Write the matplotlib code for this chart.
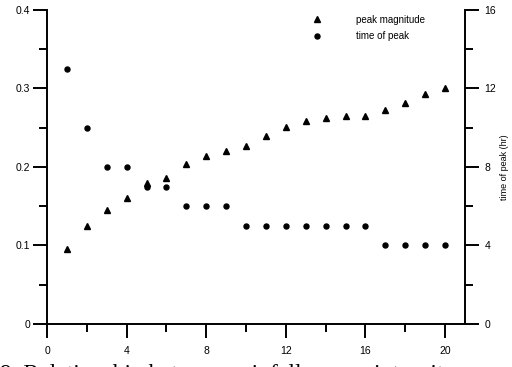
import matplotlib
matplotlib.use("Agg")
import matplotlib.pyplot as plt
from matplotlib.ticker import MultipleLocator

# data
storm = [1, 2, 3, 4, 5, 6, 7, 8, 9, 10, 11, 12, 13, 14, 15, 16, 17, 18, 19, 20]
peak_mag = [0.095, 0.125, 0.145, 0.161, 0.179, 0.186, 0.204, 0.214, 0.22, 0.227,
            0.24, 0.251, 0.258, 0.262, 0.265, 0.265, 0.272, 0.282, 0.293, 0.30]
peak_time = [13, 10, 8, 8, 7, 7, 6, 6, 6, 5, 5, 5, 5, 5, 5, 5, 4, 4, 4, 4]

plt.rcParams['font.family'] = ['Liberation Sans', 'DejaVu Sans']

fig = plt.figure(figsize=(5.12, 3.67), dpi=100)
ax = fig.add_axes([0.0918, 0.1172, 0.8164, 0.8556])
ax2 = ax.twinx()

l1, = ax.plot(storm, peak_mag, ls='none', marker='^', ms=3.8, color='black',
              label='peak magnitude')
l2, = ax2.plot(storm, peak_time, ls='none', marker='o', ms=3.6, color='black',
               label='time of peak')

ax.set_xlim(0, 21)
ax.set_ylim(0, 0.4)
ax2.set_ylim(0, 16)

ax.xaxis.set_major_locator(MultipleLocator(4))
ax.xaxis.set_minor_locator(MultipleLocator(2))
ax.yaxis.set_major_locator(MultipleLocator(0.1))
ax.yaxis.set_minor_locator(MultipleLocator(0.05))
ax2.yaxis.set_major_locator(MultipleLocator(4))
ax2.yaxis.set_minor_locator(MultipleLocator(2))
ax.yaxis.set_major_formatter(plt.FuncFormatter(lambda v, p: '0' if v == 0 else f'{v:.1f}'))

for a in (ax, ax2):
    a.spines['top'].set_visible(False)
    for s in a.spines.values():
        s.set_linewidth(1.4)
    a.tick_params(which='major', length=10, width=1.4, direction='out', labelsize=7.5)
    a.tick_params(which='minor', length=6, width=1.4, direction='out')
ax.spines['right'].set_visible(False)
ax2.spines['left'].set_visible(False)
ax2.spines['bottom'].set_visible(False)
ax.tick_params(axis='x', which='major', pad=6)
ax.tick_params(axis='y', which='major', pad=2)
ax2.tick_params(axis='y', which='major', pad=4)

ax2.set_ylabel('time of peak (hr)', fontsize=6.5, labelpad=3)

ax.legend(handles=[l1, l2], loc='upper left', bbox_to_anchor=(0.622, 0.985),
          frameon=False, fontsize=7, handlelength=2, handletextpad=3,
          labelspacing=0.7, borderpad=0, borderaxespad=0, numpoints=1)

fig.text(0.0, -0.035, '9. Relationship between rainfall versus intensity',
         family='Liberation Serif', fontsize=17, ha='left', va='baseline')

fig.savefig('out.png', dpi=100)
